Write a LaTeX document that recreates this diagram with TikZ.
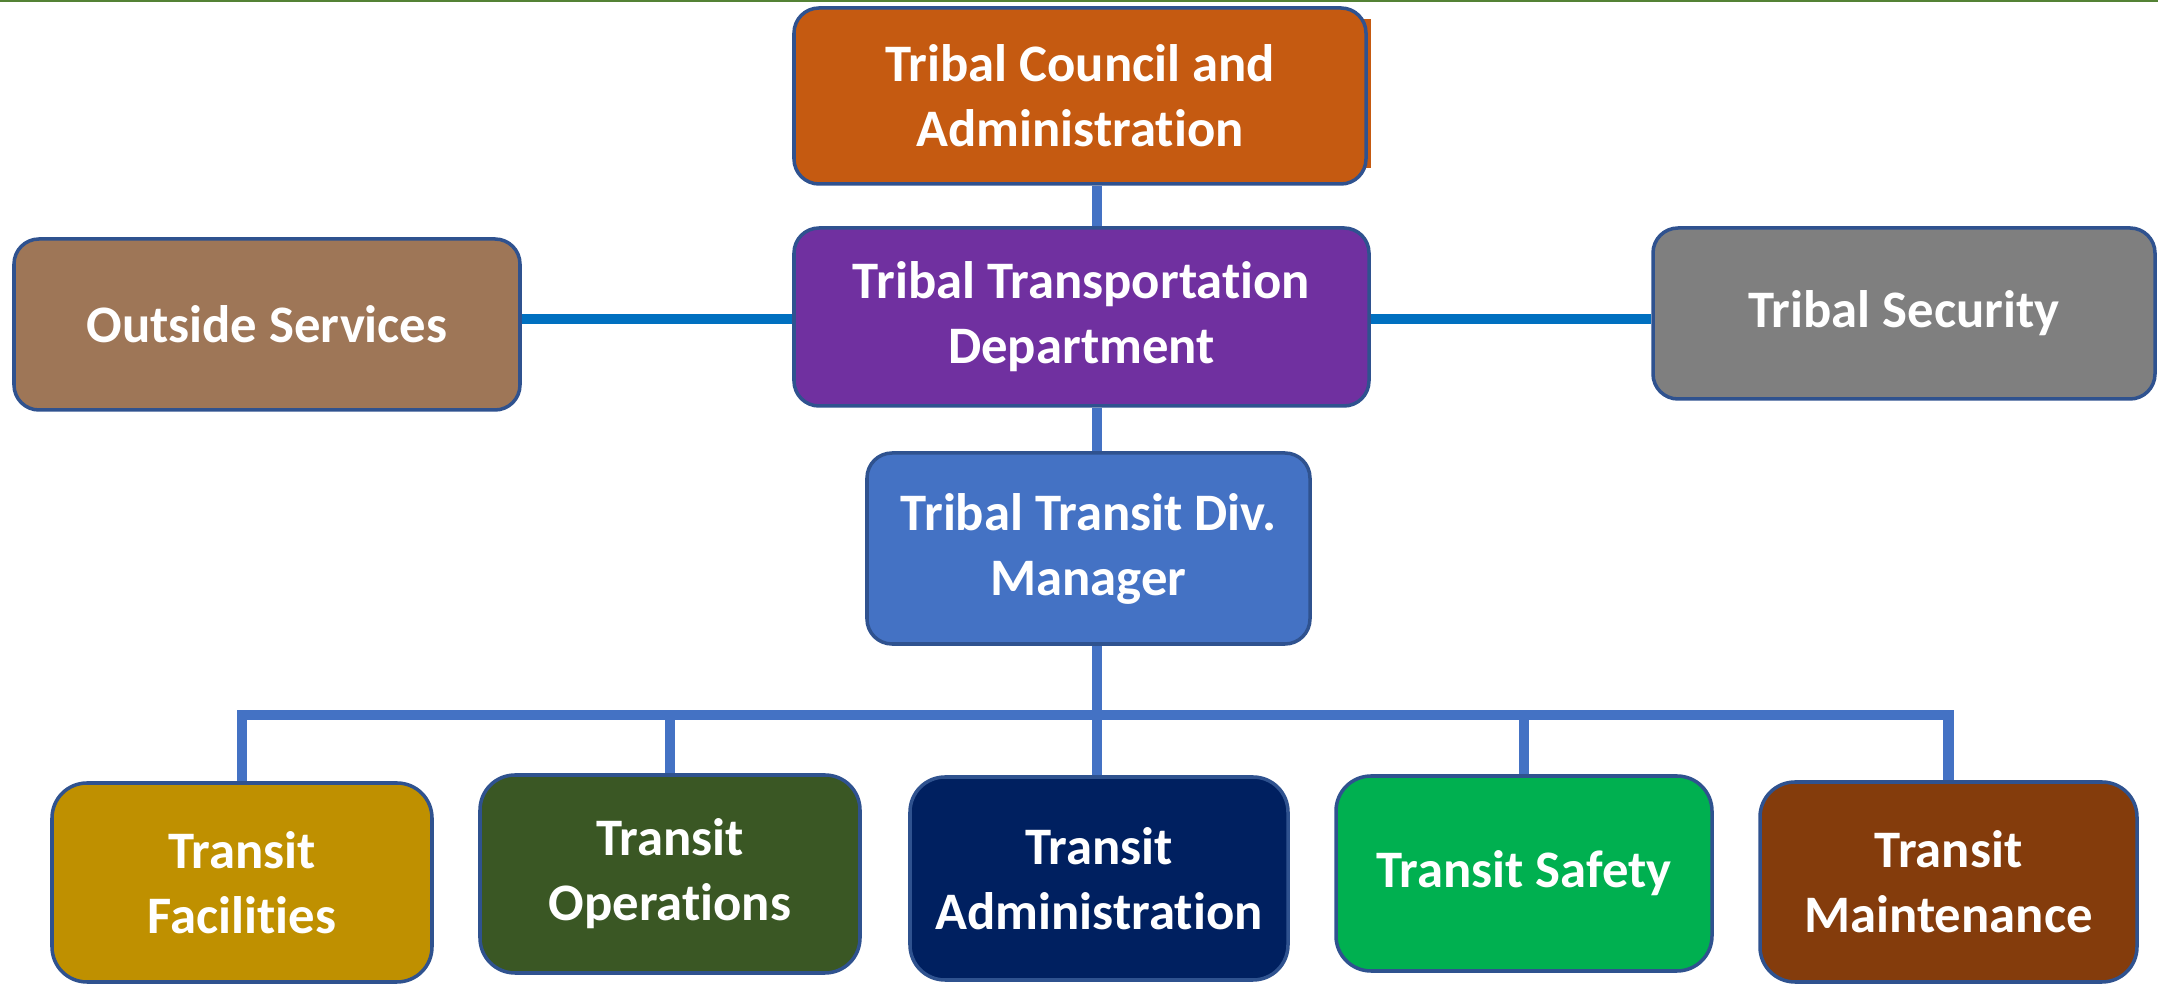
\documentclass[tikz,border=0pt]{standalone}
\usepackage{fontspec}
\setmainfont[Ligatures=NoCommon]{Carlito}
\definecolor{edgeblue}{HTML}{2F528F}
\definecolor{linkblue}{HTML}{4472C4}
\definecolor{sideblue}{HTML}{0070C0}
\definecolor{topgreen}{HTML}{548235}
\definecolor{councilc}{HTML}{C55A11}
\definecolor{deptc}{HTML}{7030A0}
\definecolor{outsidec}{HTML}{9E7657}
\definecolor{securityc}{HTML}{7F7F7F}
\definecolor{managerc}{HTML}{4472C4}
\definecolor{facc}{HTML}{BF9000}
\definecolor{opsc}{HTML}{3A5724}
\definecolor{admc}{HTML}{002060}
\definecolor{safc}{HTML}{00B050}
\definecolor{mntc}{HTML}{843C0C}
\begin{document}
\begin{tikzpicture}[line join=miter,
	unit/.style={draw=edgeblue, line width=1pt, rounded corners=0.25cm, align=center, text=white,
		font=\fontsize{15}{18.5}\selectfont\bfseries, inner sep=0pt},
	team/.style={unit, rounded corners=0.35cm, minimum width=3.8cm, minimum height=2cm},
	link/.style={draw=linkblue, line width=3.1pt},
	side/.style={draw=sideblue, line width=2.9pt}]
	\useasboundingbox (0,0) rectangle (21.58,-9.85);
	\fill[topgreen] (0,0) rectangle (21.58,-0.025);
	\fill[councilc] (13.60,-0.19) rectangle (13.71,-1.68);
	% top of the chart
	\node[unit, fill=councilc, minimum width=5.72cm, minimum height=1.76cm] (council) at (10.80,-0.96) {Tribal Council and\\Administration};
	\node[unit, fill=deptc, minimum width=5.75cm, minimum height=1.78cm] (dept) at (10.815,-3.17) {Tribal Transportation\\Department};
	\node[unit, fill=outsidec, minimum width=5.06cm, minimum height=1.71cm] (outside) at (2.67,-3.245) {Outside Services};
	\node[unit, fill=securityc, minimum width=5.02cm, minimum height=1.71cm] (security) at (19.04,-3.135) {Tribal Security};
	\node[unit, fill=managerc, minimum width=4.43cm, minimum height=1.91cm] (manager) at (10.885,-5.485) {Tribal Transit Div.\\Manager};
	% transit teams
	\node[team, fill=facc, minimum height=1.99cm] (fac) at (2.42,-8.825) {Transit\\Facilities};
	\node[team, fill=opsc, minimum height=1.98cm] (ops) at (6.70,-8.74) {Transit\\Operations};
	\node[team, fill=admc, minimum width=3.78cm, minimum height=2.03cm] (adm) at (10.99,-8.785) {Transit\\Administration};
	\node[team, fill=safc, minimum width=3.76cm, minimum height=1.95cm] (saf) at (15.24,-8.735) {Transit Safety};
	\node[team, fill=mntc, minimum width=3.77cm, minimum height=2cm] (mnt) at (19.485,-8.82) {Transit\\Maintenance};
	% connectors
	\coordinate (spine) at (10.97,-7.15);
	\draw[link] (council.south -| spine) -- (dept.north -| spine);
	\draw[link] (dept.south -| spine) -- (manager.north -| spine);
	\draw[link] (manager.south -| spine) -- (adm.north -| spine);
	\draw[link] (fac.north) |- (spine) -| (mnt.north);
	\draw[link] (ops.north) -- (ops.north |- spine);
	\draw[link] (saf.north) -- (saf.north |- spine);
	\draw[side] (outside.east |- 0,-3.19) -- (dept.west |- 0,-3.19);
	\draw[side] (dept.east |- 0,-3.19) -- (security.west |- 0,-3.19);
\end{tikzpicture}
\end{document}
